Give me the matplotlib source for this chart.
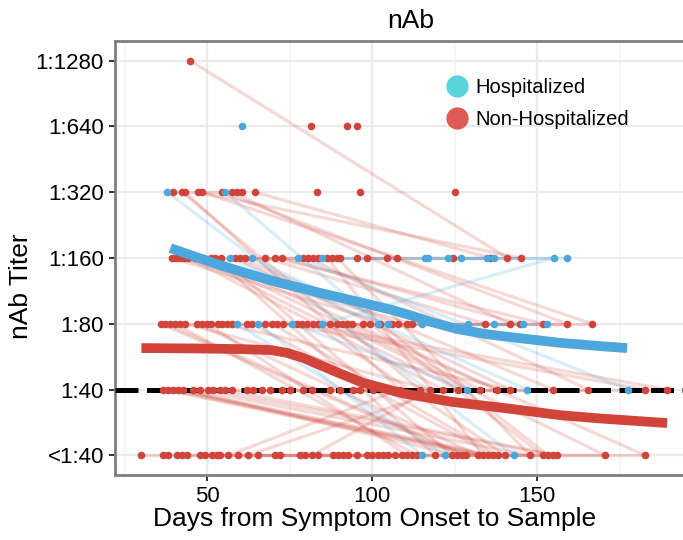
import matplotlib
matplotlib.use("Agg")
import matplotlib.pyplot as plt
from matplotlib.lines import Line2D

plt.rcParams["font.family"] = ["Liberation Sans", "DejaVu Sans"]

# ============================================================
# Data (days from symptom onset)
# titer levels: 0=<1:40, 1=1:40, 2=1:80, 3=1:160, 4=1:320, 5=1:640, 6=1:1280
# ============================================================

titer_labels = ["<1:40", "1:40", "1:80", "1:160", "1:320", "1:640", "1:1280"]

red_lvl6 = [44.8]
red_lvl5 = [81.5, 92.4, 95.5]
red_lvl4 = [39.7, 42.4, 43.3, 47.3, 48.5, 54.5, 57.6, 59.0, 60.6, 64.5, 83.3, 96.4, 125.0]
red_lvl3 = [39.4, 40.5, 41.8, 43.0, 44.2, 46.4, 48.8, 51.0, 52.4, 54.0, 58.5, 60.0, 61.5,
            67.6, 70.6, 72.7, 79.0, 80.6, 82.0, 83.6, 86.4, 87.9, 89.4, 90.3, 95.5, 98.5,
            104.5, 107.6, 124.5, 135.8, 141.0, 145.0]
red_lvl2 = [35.8, 37.3, 38.8, 40.3, 41.8, 43.3, 47.0, 48.5, 50.0, 51.0, 53.3, 54.5, 56.0,
            57.6, 62.1, 63.6, 67.6, 69.7, 71.2, 73.0, 77.3, 78.8, 80.3, 82.1, 83.6, 87.3,
            89.4, 90.9, 92.4, 93.9, 97.3, 99.4, 102.4, 106.0, 107.9, 110.6, 112.0, 134.2,
            141.8, 144.8, 151.8, 159.0, 166.7]
red_lvl1 = [36.7, 38.2, 39.7, 41.2, 42.7, 45.8, 47.9, 50.3, 51.8, 53.9, 55.5, 57.6, 62.1,
            63.9, 66.7, 69.1, 72.7, 75.2, 79.1, 81.8, 87.3, 90.3, 94.2, 96.4, 100.3, 104.5,
            106.4, 108.5, 114.5, 117.6, 121.5, 126.0, 132.7, 137.9, 141.8, 154.8, 165.5,
            182.7, 189.4]
red_lvl0 = [30.0, 36.7, 38.2, 40.9, 42.4, 43.9, 47.9, 49.4, 51.5, 53.0, 53.9, 56.4, 59.4,
            62.4, 65.5, 70.6, 72.1, 78.2, 79.7, 81.8, 83.6, 88.2, 89.7, 91.2, 92.7, 95.5,
            98.5, 100.0, 101.8, 103.3, 104.8, 107.0, 109.1, 110.6, 112.1, 113.6, 119.1,
            124.2, 125.8, 127.3, 128.5, 132.1, 133.6, 135.2, 136.7, 138.2, 140.3, 147.9,
            151.8, 153.3, 154.8, 156.1, 170.6, 182.7]

blue_lvl5 = [60.6]
blue_lvl4 = [37.9, 55.5]
blue_lvl3 = [57.0, 63.6, 77.6, 84.8, 116.0, 117.0, 123.0, 127.0, 134.8, 137.0, 155.0, 159.0]
blue_lvl2 = [59.0, 65.5, 75.8, 84.8, 101.8, 104.8, 115.0, 129.0, 137.0, 145.8, 153.0]
blue_lvl1 = [128.8, 147.0, 177.6]
blue_lvl0 = [115.2, 122.1, 143.0]

# paired samples per subject: (day first, titer first, day second, titer second)
red_pairs = [
    (44.8, 6, 141.0, 3), (47.3, 4, 145.0, 3), (48.5, 4, 166.7, 2), (57.6, 4, 141.8, 2),
    (54.5, 4, 159.0, 2), (43.3, 4, 108.5, 1), (42.4, 4, 114.5, 1), (64.5, 4, 135.8, 3),
    (39.7, 4, 60.6, 4),
    (39.4, 3, 104.5, 2), (41.8, 3, 112.0, 2), (44.2, 3, 121.5, 1), (46.4, 3, 126.0, 1),
    (48.8, 3, 132.7, 1), (51.0, 3, 137.9, 1), (52.4, 3, 119.1, 0), (54.0, 3, 124.2, 0),
    (58.5, 3, 141.8, 1), (60.0, 3, 154.8, 1), (67.6, 3, 134.2, 2), (70.6, 3, 151.8, 2),
    (72.7, 3, 144.8, 2), (80.6, 3, 165.5, 1), (86.4, 3, 133.6, 0), (89.4, 3, 147.9, 0),
    (61.5, 3, 107.6, 3), (98.5, 3, 145.0, 3), (39.4, 3, 90.3, 3),
    (35.8, 2, 127.3, 0), (37.3, 2, 128.5, 0), (40.3, 2, 113.6, 0), (43.3, 2, 117.6, 1),
    (47.0, 2, 132.1, 0), (50.0, 2, 110.6, 0), (54.5, 2, 141.8, 1), (63.6, 2, 136.7, 0),
    (69.7, 2, 138.2, 0), (73.0, 2, 182.7, 1), (78.8, 2, 189.4, 1), (82.1, 2, 140.3, 0),
    (89.4, 2, 170.6, 0), (92.4, 2, 182.7, 0), (99.4, 2, 151.8, 0), (102.4, 2, 153.3, 0),
    (35.8, 2, 99.4, 2), (56.0, 2, 141.8, 2), (83.6, 2, 159.0, 2), (107.9, 2, 166.7, 2),
    (36.7, 1, 132.1, 0), (38.2, 1, 133.6, 0), (39.7, 1, 135.2, 0), (41.2, 1, 136.7, 0),
    (42.7, 1, 125.8, 0), (45.8, 1, 147.9, 0), (50.3, 1, 154.8, 0), (55.5, 1, 156.1, 0),
    (36.7, 1, 100.3, 1), (62.1, 1, 137.9, 1), (94.2, 1, 165.5, 1), (121.5, 1, 189.4, 1),
    (56.4, 0, 108.5, 1), (62.4, 0, 121.5, 1), (81.8, 0, 117.6, 1),
    (30.0, 0, 104.8, 0), (43.9, 0, 112.1, 0), (65.5, 0, 153.3, 0), (92.7, 0, 170.6, 0),
    (125.8, 0, 182.7, 0), (53.0, 0, 128.5, 0),
]
blue_pairs = [
    (37.9, 4, 143.0, 0), (55.5, 4, 101.8, 2), (84.8, 2, 155.0, 3),
    (116.0, 3, 155.0, 3), (117.0, 3, 159.0, 3), (123.0, 3, 137.0, 3), (127.0, 3, 134.8, 3),
    (77.6, 3, 123.0, 3), (84.8, 3, 116.0, 3), (129.0, 2, 153.0, 2), (137.0, 2, 145.8, 2),
    (59.0, 2, 122.1, 0), (77.6, 3, 177.6, 1), (57.0, 3, 147.0, 1), (75.8, 2, 128.8, 1),
    (65.5, 2, 115.2, 0), (63.6, 3, 104.8, 2),
]

# smoothed group trends
blue_trend_days = [38.8, 53.9, 69.1, 84.2, 99.4, 106.0, 111.5, 117.6, 125.8, 134.8, 144.8,
                   157.0, 169.1, 177.3]
blue_trend_lvl = [3.15, 2.89, 2.66, 2.47, 2.29, 2.21, 2.13, 2.03, 1.92, 1.84, 1.78,
                  1.71, 1.66, 1.63]
red_trend_days = [30.0, 45.0, 60.0, 69.1, 74.0, 79.1, 89.4, 97.3, 109.4, 124.5, 139.7,
                  157.0, 169.0, 189.4]
red_trend_lvl = [1.63, 1.625, 1.615, 1.60, 1.56, 1.48, 1.26, 1.10, 0.94, 0.81, 0.72,
                 0.61, 0.56, 0.49]

cutoff_lvl = 1

# ============================================================
# Plot
# ============================================================

RED = "#D0443A"
BLUE = "#4BA7DC"

fig = plt.figure(figsize=(6.83, 5.4), dpi=100)
ax = fig.add_axes([115 / 683, 65 / 540, 592 / 683, 434 / 540])
ax.set_axisbelow(True)

for d0, l0, d1, l1 in red_pairs:
    ax.plot([d0, d1], [l0, l1], color=RED, alpha=0.2, lw=2.3, solid_capstyle="butt", zorder=2)
for d0, l0, d1, l1 in blue_pairs:
    ax.plot([d0, d1], [l0, l1], color=BLUE, alpha=0.2, lw=2.3, solid_capstyle="butt", zorder=2)

ax.axhline(cutoff_lvl, color="black", lw=3.6, dashes=(4.6, 1.7), zorder=3)

red_rows = [red_lvl0, red_lvl1, red_lvl2, red_lvl3, red_lvl4, red_lvl5, red_lvl6]
blue_rows = [blue_lvl0, blue_lvl1, blue_lvl2, blue_lvl3, blue_lvl4, blue_lvl5]
for lvl, days in enumerate(red_rows):
    ax.scatter(days, [lvl] * len(days), s=30, color=RED, lw=0, zorder=4)
for lvl, days in enumerate(blue_rows):
    ax.scatter(days, [lvl] * len(days), s=30, color=BLUE, lw=0, zorder=4)

ax.plot(red_trend_days, red_trend_lvl, color=RED, lw=7, solid_capstyle="butt",
        solid_joinstyle="round", zorder=5)
ax.plot(blue_trend_days, blue_trend_lvl, color=BLUE, lw=7, solid_capstyle="butt",
        solid_joinstyle="round", zorder=5)

ax.set_xlim(22, 201.5)
ax.set_ylim(-0.3, 6.3)
ax.set_yticks(range(len(titer_labels)))
ax.set_yticklabels(titer_labels)
ax.set_xticks([50, 100, 150])
ax.set_xticks([25, 75, 125, 175], minor=True)
ax.tick_params(axis="both", which="major", labelsize=16, length=4, width=1.3,
               color="#222222", labelcolor="black", pad=4)
ax.tick_params(axis="x", which="minor", length=0)

ax.grid(which="major", color="#EBEBEB", lw=1.6)
ax.grid(which="minor", axis="x", color="#F4F4F4", lw=1.2)

for side in ["left", "bottom", "top", "right"]:
    ax.spines[side].set_color("#7F7F7F")
    ax.spines[side].set_linewidth(2)

ax.set_title("nAb", fontsize=19, pad=9)
ax.set_xlabel("Days from Symptom Onset to Sample", fontsize=19)
ax.set_ylabel("nAb Titer", fontsize=19)
ax.xaxis.set_label_coords(0.439, -0.074)
ax.yaxis.set_label_coords(-0.139, 0.435)

handles = [
    Line2D([], [], marker="o", ls="", color="#5AD3DC", markersize=15, label="Hospitalized"),
    Line2D([], [], marker="o", ls="", color="#DE5A54", markersize=15, label="Non-Hospitalized"),
]
ax.legend(handles=handles, loc="upper left", bbox_to_anchor=(0.541, 0.938), frameon=False,
          fontsize=14.5, borderpad=0, handletextpad=0.3, labelspacing=0.65, handlelength=1.2)

fig.savefig("out.png", dpi=100)
